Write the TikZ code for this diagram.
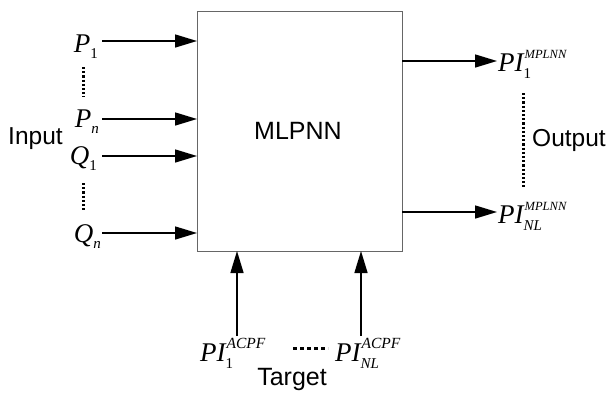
\documentclass[tikz,border=0pt]{standalone}
\usepackage{fontspec}
\setmainfont{Liberation Serif}
\setsansfont{Liberation Sans}
\usetikzlibrary{arrows.meta}
% #1 sub, #2 sup, #3 sup size
\newcommand\SubSup[3]{\setbox0\hbox{\fontsize{15}{15}\selectfont #1}\setbox2\hbox{\fontsize{#3}{#3}\selectfont\itshape #2}\raisebox{-7pt}{\copy0}\kern-\wd0\kern1pt\raisebox{12.5pt}{\copy2}\ifdim\wd0>\wd2 \kern\dimexpr\wd0-\wd2\relax\fi}
\newcommand\VarLab[2]{{\fontsize{27}{27}\selectfont\itshape #1}\raisebox{-6pt}{\fontsize{15}{15}\selectfont #2}}
\begin{document}
\begin{tikzpicture}[x=1pt,y=-1pt,
  arr/.style={line width=1.5pt,-{Triangle[length=22pt,width=13pt]}},
  dotv/.style={line width=3pt,dash pattern=on 2.2pt off 2pt},
  dashh/.style={line width=3pt,dash pattern=on 4pt off 3pt},
  lab/.style={inner sep=0pt,font=\fontsize{27}{27}\selectfont},
  word/.style={inner sep=0pt,font=\sffamily\fontsize{24.5}{24.5}\selectfont}]
\useasboundingbox (0,0) rectangle (612,397);
\node[draw=black!60,line width=0.8pt,minimum width=205pt,minimum height=240pt,anchor=north west,inner sep=0pt] (box) at (197,11) {};
\node[word,anchor=base west,font=\sffamily\fontsize{25}{25}\selectfont] (mlp) at (254,139) {MLPNN};
% inputs
\node[lab,anchor=base east] (p1) at (98,52) {\VarLab{P}{\upshape 1}};
\node[lab,anchor=base east] (pn) at (99,127) {\VarLab{P}{\itshape n}};
\node[lab,anchor=base east] (q1) at (97,164) {\VarLab{Q}{\upshape 1}};
\node[lab,anchor=base east] (qn) at (101,242) {\VarLab{Q}{\itshape n}};
\coordinate (p1s) at (102,41); \coordinate (p1e) at (197,41);
\coordinate (pns) at (102,119); \coordinate (pne) at (197,119);
\coordinate (q1s) at (102,156); \coordinate (q1e) at (197,156);
\coordinate (qns) at (102,233); \coordinate (qne) at (197,233);
\draw[arr] (p1s) -- (p1e);
\draw[arr] (pns) -- (pne);
\draw[arr] (q1s) -- (q1e);
\draw[arr] (qns) -- (qne);
\coordinate (d1a) at (83,67); \coordinate (d1b) at (83,97);
\coordinate (d2a) at (83,183); \coordinate (d2b) at (83,211);
\draw[dotv] (d1a) -- (d1b);
\draw[dotv] (d2a) -- (d2b);
\node[word,anchor=base west] (inp) at (8,144) {Input};
% outputs
\coordinate (o1s) at (402,61);
\coordinate (o2s) at (402,212);
\node[lab,anchor=base west] (o1) at (498,71) {\itshape PI\SubSup{\upshape 1}{MPLNN}{12.5}};
\node[lab,anchor=base west] (o2) at (498,223) {\itshape PI\SubSup{\itshape NL}{MPLNN}{12.5}};
\coordinate (o1e) at (497,61);
\coordinate (o2e) at (497,212);
\draw[arr] (o1s) -- (o1e);
\draw[arr] (o2s) -- (o2e);
\coordinate (d3a) at (523,93); \coordinate (d3b) at (523,187);
\draw[dotv] (d3a) -- (d3b);
\node[word,anchor=base west] (outp) at (532,146) {Output};
% targets
\node[lab,anchor=base west] (t1) at (200,361) {\itshape PI\SubSup{\upshape 1}{ACPF}{15.5}};
\node[lab,anchor=base west] (t2) at (335,361) {\itshape PI\SubSup{\itshape NL}{ACPF}{15.5}};
\coordinate (t1s) at (237,336); \coordinate (t1e) at (237,251);
\coordinate (t2s) at (361,336); \coordinate (t2e) at (361,251);
\draw[arr] (t1s) -- (t1e);
\draw[arr] (t2s) -- (t2e);
\coordinate (d4a) at (293,348); \coordinate (d4b) at (328,348);
\draw[dashh] (d4a) -- (d4b);
\node[word,anchor=base,font=\sffamily\fontsize{25}{25}\selectfont] (tgt) at (292,385) {Target};
\end{tikzpicture}
\end{document}
